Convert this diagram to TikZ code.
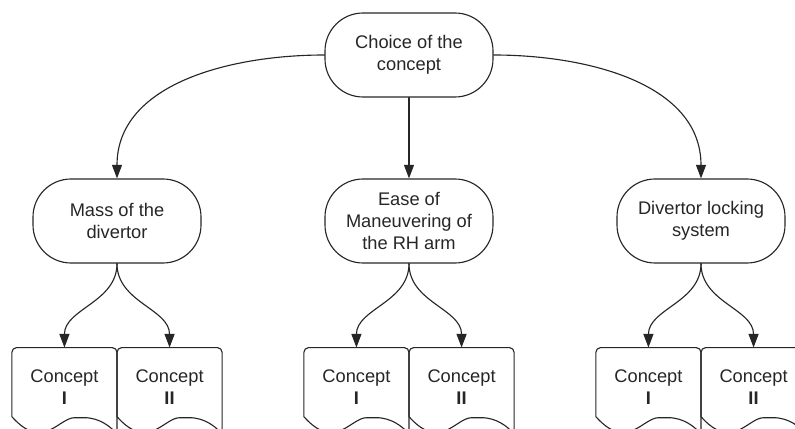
\documentclass[tikz,border=0pt]{standalone}
\usepackage{fontspec}
\setmainfont{Liberation Sans}
\usepackage{tikz}
\usetikzlibrary{arrows.meta,positioning}

% outline of a "document" box: rounded top, wavy bottom
\newcommand{\docoutline}[1]{%
  \draw[rounded corners=0.12cm]
  ([shift={(0,0.25)}]#1.south west) --
  (#1.north west) -- (#1.north east) --
  ([shift={(0,-0.175)}]#1.south east)
  .. controls ([shift={(2.47,-0.025)}]#1.south west)
  and ([shift={(2.21,0.225)}]#1.south west) ..
  ([shift={(1.69,0.225)}]#1.south west)
  .. controls ([shift={(1.17,0.225)}]#1.south west)
  and ([shift={(0.78,-0.625)}]#1.south west) ..
  ([shift={(0,0.25)}]#1.south west);
}

\begin{document}
\begin{tikzpicture}[
      line cap=round, line join=round,
      >={Triangle[length=0.34cm,width=0.25cm]},
      line width=0.8pt, draw=black!85,
      font=\fontsize{13}{15.5}\selectfont, text=black!85,
      crit/.style={draw, rounded corners=0.95cm, minimum width=4.2cm,
        minimum height=2.1cm, align=center, inner sep=2pt},
      docbox/.style={minimum width=2.6cm, minimum height=1.95cm,
        align=center, inner sep=0pt}
    ]

    % ------------------ Layout ------------------
    \def\picW{19.875}
    \def\picH{10.7}
    \def\critY{5.175}
    \def\docGap{2.1cm}

    \useasboundingbox (0,0) rectangle (\picW,\picH);
    \clip (0,0) rectangle (\picW,\picH);

    % ------------------ Choice ------------------
    \node[crit] (choice) at (10.225,9.325) {Choice of the\\concept};

    % ------------------ Criteria ------------------
    \node[crit] (mass) at (2.925,\critY) {Mass of the\\divertor};
    \node[crit] (ease) at (10.225,\critY) {Ease of\\Maneuvering of\\the RH arm};
    \node[crit] (lock) at (17.525,\critY) {Divertor locking\\system};

    \draw[->] (choice.west) to[out=180,in=90] (mass.north);
    \draw[->] (choice.south) -- (ease.north);
    \draw[->] (choice.east) to[out=0,in=90] (lock.north);

    % ------------------ Concepts ------------------
    \foreach \c in {mass,ease,lock} {
      \node[docbox, below=\docGap of \c.south, anchor=north east]
      (\c-1) {Concept\\\textbf{I}};
      \node[docbox, below=\docGap of \c.south, anchor=north west]
      (\c-2) {Concept\\\textbf{II}};
      \docoutline{\c-1}
      \docoutline{\c-2}
      \draw[->] (\c.south) to[out=-90,in=90] (\c-1.north);
      \draw[->] (\c.south) to[out=-90,in=90] (\c-2.north);
    }

  \end{tikzpicture}
\end{document}
